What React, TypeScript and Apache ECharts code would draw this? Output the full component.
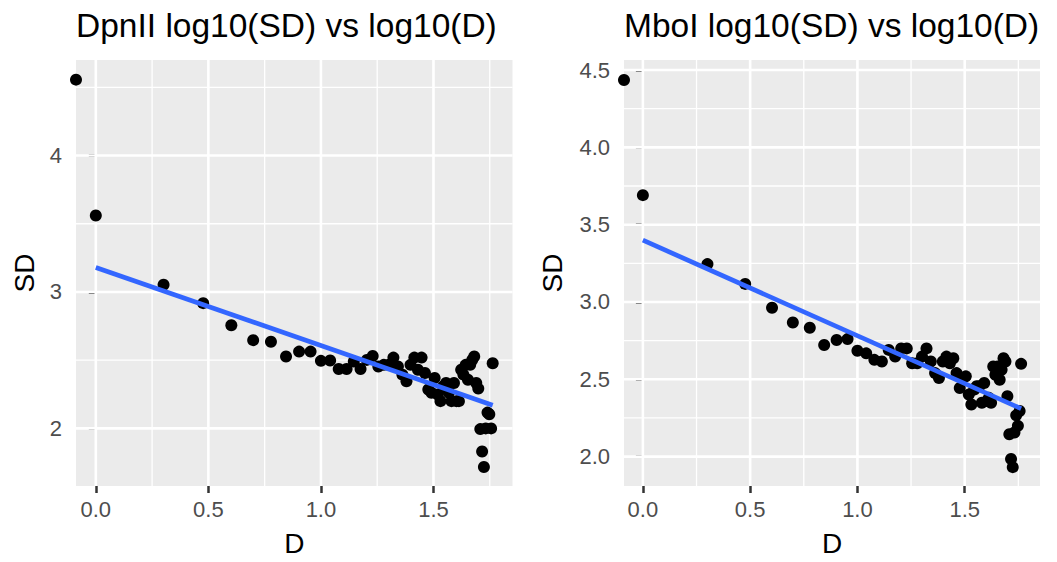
import React, { useEffect, useRef } from "react";
import * as echarts from "echarts";

// log10(D); first entry is D = 0 (log10 = -Inf, drawn at the panel's left edge)
const dValues = [
  -0.088, 0, 0.301, 0.477, 0.602, 0.699, 0.778, 0.845, 0.903, 0.954, 1.0,
  1.041, 1.079, 1.114, 1.146, 1.176, 1.204, 1.23, 1.255, 1.279, 1.301,
  1.322, 1.342, 1.362, 1.38, 1.398, 1.415, 1.431, 1.447, 1.462, 1.477,
  1.491, 1.505, 1.519, 1.531, 1.544, 1.556, 1.568, 1.58, 1.591, 1.602,
  1.613, 1.623, 1.633, 1.643, 1.653, 1.663, 1.672, 1.681, 1.69, 1.699,
  1.708, 1.716, 1.724, 1.732, 1.74, 1.748, 1.756, 1.763,
];

const dpnSD = [
  4.556, 3.56, 3.053, 2.918, 2.756, 2.647, 2.635, 2.527, 2.563, 2.563, 2.495,
  2.498, 2.435, 2.435, 2.49, 2.435, 2.502, 2.531, 2.454, 2.466, 2.466,
  2.519, 2.454, 2.394, 2.345, 2.466, 2.519, 2.43, 2.519, 2.406, 2.285,
  2.261, 2.37, 2.249, 2.2, 2.309, 2.333, 2.261, 2.2, 2.333, 2.2,
  2.2, 2.43, 2.394, 2.466, 2.357, 2.466, 2.502, 2.527, 2.333, 2.292,
  1.995, 1.831, 1.717, 2.0, 2.116, 2.104, 2.0, 2.478,
];

const mboSD = [
  4.436, 3.691, 3.245, 3.117, 2.963, 2.867, 2.833, 2.722, 2.754, 2.76, 2.685,
  2.668, 2.626, 2.615, 2.69, 2.647, 2.7, 2.7, 2.604, 2.604, 2.647,
  2.7, 2.615, 2.54, 2.508, 2.615, 2.647, 2.604, 2.636, 2.54, 2.444,
  2.508, 2.519, 2.401, 2.337, 2.433, 2.455, 2.455, 2.348, 2.476, 2.359,
  2.38, 2.348, 2.583, 2.529, 2.583, 2.497, 2.561, 2.636, 2.615, 2.39,
  2.145, 1.985, 1.932, 2.156, 2.267, 2.199, 2.295, 2.6,
];

// linear fit (geom_smooth, method = "lm") end points
const fitD = [0, 1.763];
const dpnFit = [3.18, 2.17];
const mboFit = [3.4, 2.31];

const xTicks = [0, 0.5, 1.0, 1.5];
const xMinor = [0.25, 0.75, 1.25, 1.75];
const dpnYTicks = [2, 3, 4];
const dpnYMinor = [2.5, 3.5, 4.5];
const mboYTicks = [2.0, 2.5, 3.0, 3.5, 4.0, 4.5];
const mboYMinor = [2.25, 2.75, 3.25, 3.75, 4.25];

const xRange = [-0.088, 1.851];
const dpnYRange = [1.578, 4.7];
const mboYRange = [1.81, 4.565];

const titles = ["DpnII log10(SD) vs log10(D)", "MboI log10(SD) vs log10(D)"];

const FONT = "'Liberation Sans', Arial, Helvetica, sans-serif";

export default function App() {
  const ref = useRef<HTMLDivElement>(null);

  useEffect(() => {
    if (!ref.current) return;
    const chart = echarts.init(ref.current, undefined, { renderer: "svg" });

    const panels = [
      { sd: dpnSD, fit: dpnFit, yTicks: dpnYTicks, yMinor: dpnYMinor, yRange: dpnYRange, fmt: (v: number) => String(v), nameGap: 38 },
      { sd: mboSD, fit: mboFit, yTicks: mboYTicks, yMinor: mboYMinor, yRange: mboYRange, fmt: (v: number) => v.toFixed(1), nameGap: 58 },
    ];

    const grids = [
      { left: 76, top: 60, width: 436.5, height: 431 },
      { left: 624, top: 60, width: 416, height: 431 },
    ];

    const xAxes: any[] = [];
    const yAxes: any[] = [];
    const series: any[] = [];

    panels.forEach((p, i) => {
      xAxes.push({
        type: "value",
        gridIndex: i,
        min: xRange[0],
        max: xRange[1],
        name: "D",
        nameLocation: "middle",
        nameGap: 43,
        nameTextStyle: { fontSize: 28, color: "#000000", fontFamily: FONT },
        axisLine: { show: false },
        axisTick: { show: true, customValues: xTicks, length: 7, lineStyle: { color: "#333333", width: 2.5 } },
        axisLabel: {
          customValues: xTicks,
          formatter: (v: number) => v.toFixed(1),
          fontSize: 22,
          color: "#4D4D4D",
          margin: 12,
          fontFamily: FONT,
        },
        splitLine: { show: false },
      });
      yAxes.push({
        type: "value",
        gridIndex: i,
        min: p.yRange[0],
        max: p.yRange[1],
        name: "SD",
        nameLocation: "middle",
        nameGap: p.nameGap,
        nameTextStyle: { fontSize: 28, color: "#000000", fontFamily: FONT },
        axisLine: { show: false },
        axisTick: { show: true, customValues: p.yTicks, length: 7, lineStyle: { color: "#333333", width: 2.5 } },
        axisLabel: {
          customValues: p.yTicks,
          formatter: p.fmt,
          fontSize: 22,
          color: "#4D4D4D",
          margin: 14,
          fontFamily: FONT,
        },
        splitLine: { show: false },
      });

      const gridData = [
        ...xMinor.map((v) => [v, 1]),
        ...p.yMinor.map((v) => [v, 3]),
        ...xTicks.map((v) => [v, 0]),
        ...p.yTicks.map((v) => [v, 2]),
      ];
      const yr = p.yRange;
      series.push({
        type: "custom",
        xAxisIndex: i,
        yAxisIndex: i,
        z: 1,
        silent: true,
        data: gridData,
        renderItem: (_params: any, api: any) => {
          const v = api.value(0);
          const k = api.value(1);
          let p1: number[];
          let p2: number[];
          if (k < 2) {
            p1 = api.coord([v, yr[0]]);
            p2 = api.coord([v, yr[1]]);
          } else {
            p1 = api.coord([xRange[0], v]);
            p2 = api.coord([xRange[1], v]);
          }
          return {
            type: "line",
            shape: { x1: p1[0], y1: p1[1], x2: p2[0], y2: p2[1] },
            style: { stroke: "#FFFFFF", lineWidth: k % 2 === 0 ? 2.6 : 1.3 },
          };
        },
      });

      series.push({
        type: "scatter",
        xAxisIndex: i,
        yAxisIndex: i,
        z: 2,
        symbol: "circle",
        symbolSize: 12,
        itemStyle: { color: "#000000", opacity: 1 },
        data: dValues.map((d, j) => [d, p.sd[j]]),
      });

      series.push({
        type: "line",
        xAxisIndex: i,
        yAxisIndex: i,
        z: 3,
        showSymbol: false,
        symbol: "none",
        lineStyle: { color: "#3366FF", width: 4.7, opacity: 1 },
        data: fitD.map((d, j) => [d, p.fit[j]]),
      });
    });

    chart.setOption({
      animation: false,
      backgroundColor: "#FFFFFF",
      textStyle: { fontFamily: FONT },
      title: titles.map((t, i) => ({
        text: t,
        left: grids[i].left,
        top: 8,
        padding: 0,
        textStyle: { fontSize: 33.5, fontWeight: "normal", color: "#000000", fontFamily: FONT },
      })),
      grid: grids.map((g) => ({
        ...g,
        show: true,
        backgroundColor: "#EBEBEB",
        borderWidth: 0,
        containLabel: false,
      })),
      xAxis: xAxes,
      yAxis: yAxes,
      series,
    });

    return () => chart.dispose();
  }, []);

  return (
    <div
      ref={ref}
      style={{ position: "absolute", left: 0, top: 0, width: 1057, height: 562, background: "#FFFFFF" }}
    />
  );
}
